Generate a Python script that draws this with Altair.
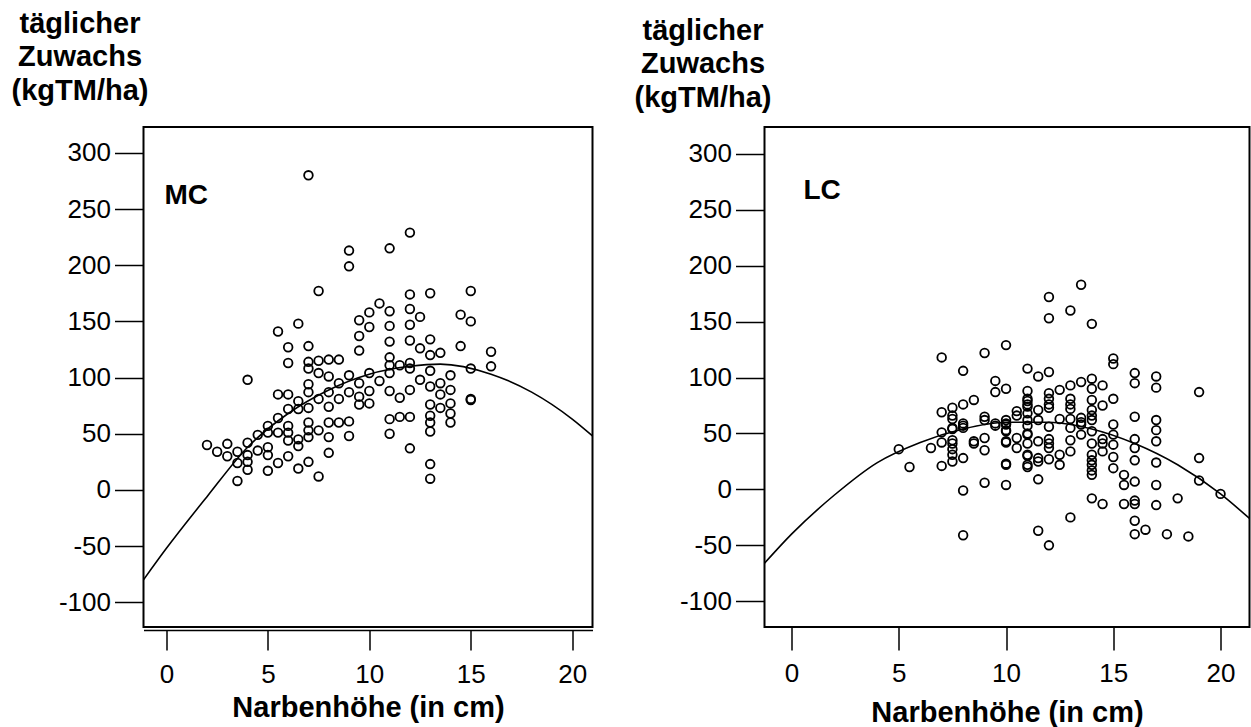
import altair as alt
import pandas as pd

# ---- MC panel (left) ----
mc_x = [7, 12, 9, 11, 9, 7.5, 12, 13, 10.5, 10, 11, 12, 12.5, 9.5, 6.5, 5.5, 10, 11, 12, 9.5,
        6, 7, 11, 12, 13, 9.5, 12.5, 13, 6, 7, 7.5, 8, 8.5, 11,
        11, 11.5, 12, 13, 7, 7.5, 8, 8.5, 9, 9.5, 10, 10.5, 11, 12, 12.5, 13, 13.5, 13.5,
        4, 5.5, 6, 6.5, 7, 7, 7.5, 8, 8, 8.5, 9, 9.5, 9.5, 10, 10, 11, 11.5, 12, 13,
        6, 6.5, 7, 5.5, 5, 5, 4.5, 6, 6, 6, 6.5, 7, 7, 7, 7.5, 8, 8, 8.5, 9, 9, 11, 11.5, 12,
        13, 13, 13, 11, 5.5,
        2, 2.5, 3, 3, 3.5, 4, 4, 4, 4, 3.5, 3.5, 4.5, 5, 5, 5, 5.5, 6, 6.5, 6.5, 7, 7.5, 8,
        12, 13, 13,
        13.5, 13.5, 14, 14, 14, 14, 14, 14.5, 14.5, 15, 15, 15, 15, 15, 16, 16]
mc_y = [280, 229, 213, 215, 199, 177, 174, 175, 166, 158, 159, 161, 154, 151, 148, 141, 145, 146, 147, 137,
        127, 128, 132, 133, 134, 124, 126, 120, 113, 114, 115, 116, 116, 118,
        111, 111, 113, 106, 108, 104, 101, 95, 102, 95, 104, 97, 104, 108, 98, 92, 85, 73,
        98, 85, 85, 79, 87, 94, 81, 87, 74, 81, 87, 83, 76, 88, 77, 88, 82, 89, 76,
        72, 72, 73, 64, 57, 51, 49, 57, 51, 44, 45, 60, 53, 47, 53, 60, 47, 60, 61, 48, 63, 65, 65,
        66, 60, 52, 50, 51,
        40, 34, 41, 30, 34, 42, 31, 25, 18, 24, 8, 35, 38, 31, 17, 24, 30, 39, 19, 25, 12, 33,
        37, 23, 10,
        122, 95, 102, 89, 77, 68, 60, 156, 128, 177, 150, 108, 81, 80, 123, 110]
# fitted curve
mc_fit_x = [-1.13, 0, 2, 4, 6, 8, 10, 12, 13.5, 16, 18, 20, 21]
mc_fit_y = [-80, -52, -6, 38, 68, 89, 103, 110, 112, 103, 87, 63, 48]

# ---- LC panel (right) ----
lc_x = [10, 9, 7, 8, 11, 9.5, 9.5, 10, 11, 11, 8.5, 8, 7.5, 7, 7.5, 9, 9, 10, 10.5, 10.5,
        11, 11, 11, 8, 8, 9.5, 10, 10, 7.5, 7, 7.5, 7.5, 7, 8.5, 9, 10, 10.5, 11, 11, 5, 6.5,
        5.5, 7, 7.5, 7.5, 7.5, 8, 8, 8, 8.5, 9, 9, 10, 10, 10, 10.5, 11, 11, 7.5, 7.5, 8, 9.5,
        13.5, 12, 13, 12, 14, 15, 15, 11.5, 12, 16, 16, 17, 17, 19, 12, 12.5, 13, 13.5, 14, 14.5,
        14, 14, 14, 14, 14, 15, 14.5, 12, 12, 12, 11, 11, 11.5, 13, 13, 13, 12.5, 13.5, 13.5, 13,
        10, 10, 10,
        11, 11, 11, 11, 11.5, 11.5, 11.5, 11.5, 11.5, 12, 12, 12, 12, 12, 12.5, 12.5,
        13, 13, 13, 13.5, 13.5, 14, 14, 14, 14, 14, 14, 14, 14.5, 14.5, 14.5,
        15, 15, 15, 15, 15, 15.5, 15.5, 16, 16, 16, 16, 16, 16, 17, 17, 17, 17, 17,
        18, 19, 19, 20,
        11.5, 12, 13, 14, 14.5, 15.5, 16, 16, 16, 16.5, 17, 17.5, 18.5]
lc_y = [129, 122, 118, 106, 108, 97, 87, 90, 88, 79, 80, 76, 73, 69, 66, 65, 62, 62, 70, 66,
        74, 68, 62, 59, 55, 59, 59, 53, 55, 51, 44, 41, 42, 43, 46, 43, 46, 50, 41, 36, 37,
        20, 21, 36, 31, 25, 28, -1, -41, 41, 35, 6, 22, 23, 4, 37, 30, 20, 63, 54, 57, 57,
        183, 172, 160, 153, 148, 117, 112, 101, 105, 104, 95, 101, 91, 87, 86, 89, 93, 96, 99, 93,
        90, 80, 71, 66, 62, 81, 75, 81, 76, 73, 81, 76, 71, 81, 76, 72, 63, 64, 60, 63,
        58, 52, 42,
        57, 49, 31, 22, 62, 43, 28, 25, 9, 56, 45, 41, 37, 27, 31, 22,
        55, 44, 34, 58, 49, 52, 41, 31, 26, 22, 17, 13, 45, 41, 34,
        58, 49, 40, 29, 19, 13, 4, 65, 45, 37, 26, 7, -10, 62, 53, 43, 24, 4,
        -8, 28, 8, -4,
        -37, -50, -25, -8, -13, -13, -13, -28, -40, -36, -14, -40, -42]
lc_fit_x = [-1.26, 0, 2, 4, 6, 8, 10, 12, 14, 16, 18, 20, 21.35]
lc_fit_y = [-66, -40, -5, 24, 42, 54, 60, 60, 54, 41, 22, -4, -26]

y_ticks = [-100, -50, 0, 50, 100, 150, 200, 250, 300]
x_ticks = [0, 5, 10, 15, 20]
y_title = ["täglicher", "Zuwachs", "(kgTM/ha)"]
x_title = "Narbenhöhe (in cm)"

FONT = "Liberation Sans"


def panel(xs, ys, fx, fy, label, xdom, ydom, w, h, title_x, title_y, lab_x, lab_y,
          x_domain_line, x_offset, x_tick, x_lab_pad, x_title_y):
    df = pd.DataFrame({"x": xs, "y": ys})
    fit_df = pd.DataFrame({"x": fx, "y": fy})
    xaxis = alt.Axis(values=x_ticks, title=x_title, grid=False,
                     domain=x_domain_line, domainColor="black", domainWidth=1.5,
                     offset=x_offset, tickSize=x_tick, tickWidth=1.5, tickColor="black",
                     labelFont=FONT, labelFontSize=26, labelColor="black",
                     labelPadding=x_lab_pad, labelFlush=False,
                     titleFont=FONT, titleFontSize=29, titleFontWeight="bold",
                     titleColor="black", titleBaseline="alphabetic", titleY=x_title_y)
    yaxis = alt.Axis(values=y_ticks, title=y_title, grid=False, domain=False,
                     tickSize=29, tickWidth=1.5, tickColor="black",
                     labelFont=FONT, labelFontSize=26, labelColor="black",
                     labelPadding=4, labelExpr="'' + datum.value",
                     titleFont=FONT, titleFontSize=29, titleFontWeight="bold",
                     titleColor="black", titleAngle=0, titleAlign="center",
                     titleBaseline="alphabetic", titleX=title_x, titleY=title_y,
                     titleLineHeight=33.5)
    xs_ = alt.Scale(domain=xdom, nice=False, zero=False)
    ys_ = alt.Scale(domain=ydom, nice=False, zero=False)
    pts = alt.Chart(df).mark_point(shape="circle", filled=False, color="black",
                                   strokeWidth=1.8, size=75, opacity=1).encode(
        x=alt.X("x:Q", scale=xs_, axis=xaxis),
        y=alt.Y("y:Q", scale=ys_, axis=yaxis),
    )
    fit = alt.Chart(fit_df).mark_line(color="black", strokeWidth=1.6, clip=True,
                                      interpolate="monotone").encode(
        x=alt.X("x:Q", scale=xs_),
        y=alt.Y("y:Q", scale=ys_),
    )
    txt = alt.Chart(pd.DataFrame({"t": [label]})).mark_text(
        font=FONT, fontSize=28, fontWeight="bold", color="black",
        align="left", baseline="alphabetic"
    ).encode(x=alt.value(lab_x), y=alt.value(lab_y), text="t:N")
    return alt.layer(pts, fit, txt).properties(width=w, height=h)


left = panel(mc_x, mc_y, mc_fit_x, mc_fit_y, "MC", [-1.13, 21.0], [-122, 323], 449, 500,
             -64, -95, 21, 77, True, 3, 20, 11, 86)
right = panel(lc_x, lc_y, lc_fit_x, lc_fit_y, "LC", [-1.26, 21.35], [-123, 324], 485, 500,
              -62, -88, 39, 72, False, 0, 23, 10, 94)

chart = alt.hconcat(left, right, spacing=172, bounds="flush").configure_view(
    stroke="black", strokeWidth=2
).properties(
    padding={"left": 9.5, "top": 8, "right": 0, "bottom": 0},
    background="white",
)

chart.save("out.html", embed_options={"renderer": "svg", "actions": False})
